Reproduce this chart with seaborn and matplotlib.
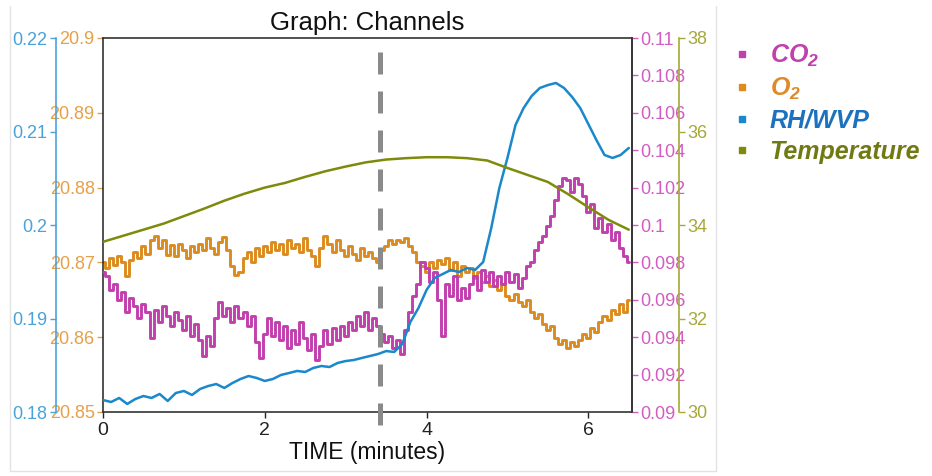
import numpy as np
import pandas as pd
import matplotlib
matplotlib.use("Agg")
import matplotlib.pyplot as plt
import seaborn as sns
from matplotlib.ticker import FixedLocator, FuncFormatter
from matplotlib.lines import Line2D

# ---------------- data ----------------
time_fine = np.round(np.arange(0, 6.5001, 0.05), 2)    # minutes (CO2, O2)
time_mid = np.round(np.arange(0, 6.5001, 0.1), 1)      # minutes (RH/WVP)
time_coarse = np.round(np.arange(0, 6.5001, 0.25), 2)  # minutes (Temperature)

co2 = [
    0.09749, 0.09727, 0.09652, 0.09685, 0.09599, 0.09642, 0.09535, 0.09610, 0.09567, 0.09503,
    0.09578, 0.09535, 0.09396, 0.09545, 0.09481, 0.09567, 0.09513, 0.09460, 0.09535, 0.09492,
    0.09439, 0.09513, 0.09406, 0.09471, 0.09385, 0.09299, 0.09406, 0.09353, 0.09503, 0.09588,
    0.09513, 0.09556, 0.09481, 0.09567, 0.09503, 0.09535, 0.09460, 0.09513, 0.09374, 0.09289,
    0.09417, 0.09503, 0.09406, 0.09481, 0.09385, 0.09460, 0.09342, 0.09439, 0.09364, 0.09481,
    0.09396, 0.09332, 0.09417, 0.09278, 0.09353, 0.09439, 0.09364, 0.09449, 0.09385, 0.09460,
    0.09406, 0.09481, 0.09439, 0.09513, 0.09460, 0.09535, 0.09439, 0.09503, 0.09460, 0.09417,
    0.09374, 0.09406, 0.09342, 0.09385, 0.09310, 0.09439, 0.09535, 0.09620, 0.09685, 0.09802,
    0.09770, 0.09695, 0.09749, 0.09599, 0.09406, 0.09685, 0.09620, 0.09727, 0.09599, 0.09663,
    0.09610, 0.09685, 0.09727, 0.09652, 0.09759, 0.09695, 0.09749, 0.09674, 0.09727, 0.09685,
    0.09749, 0.09695, 0.09738, 0.09663, 0.09717, 0.09781, 0.09802, 0.09866, 0.09909, 0.09941,
    0.09995, 0.10048, 0.10134, 0.10209, 0.10251, 0.10241, 0.10177, 0.10251, 0.10219, 0.10155,
    0.10070, 0.10112, 0.09984, 0.10038, 0.09963, 0.10005, 0.09920, 0.09963, 0.09877, 0.09834,
    0.09802,
]

o2 = [
    20.8701, 20.8693, 20.8706, 20.8697, 20.8709, 20.8701, 20.8682, 20.8703, 20.8714, 20.8706,
    20.8722, 20.8711, 20.8730, 20.8735, 20.8719, 20.8730, 20.8710, 20.8723, 20.8709, 20.8725,
    20.8717, 20.8706, 20.8722, 20.8714, 20.8725, 20.8717, 20.8733, 20.8719, 20.8711, 20.8727,
    20.8734, 20.8717, 20.8695, 20.8683, 20.8687, 20.8706, 20.8714, 20.8701, 20.8719, 20.8709,
    20.8722, 20.8714, 20.8727, 20.8717, 20.8725, 20.8711, 20.8730, 20.8719, 20.8725, 20.8714,
    20.8733, 20.8717, 20.8709, 20.8695, 20.8719, 20.8735, 20.8725, 20.8714, 20.8730, 20.8717,
    20.8709, 20.8722, 20.8711, 20.8703, 20.8719, 20.8709, 20.8714, 20.8706, 20.8701, 20.8717,
    20.8722, 20.8730, 20.8725, 20.8730, 20.8727, 20.8733, 20.8722, 20.8714, 20.8701, 20.8695,
    20.8687, 20.8701, 20.8693, 20.8703, 20.8698, 20.8706, 20.8690, 20.8701, 20.8682, 20.8695,
    20.8687, 20.8693, 20.8679, 20.8687, 20.8674, 20.8682, 20.8668, 20.8676, 20.8663, 20.8671,
    20.8655, 20.8650, 20.8658, 20.8647, 20.8642, 20.8650, 20.8634, 20.8626, 20.8631, 20.8618,
    20.8610, 20.8615, 20.8599, 20.8591, 20.8596, 20.8586, 20.8594, 20.8588, 20.8596, 20.8604,
    20.8599, 20.8612, 20.8607, 20.8620, 20.8628, 20.8623, 20.8636, 20.8631, 20.8644, 20.8634,
    20.8650,
]

rh = [
    0.18128, 0.18107, 0.18150, 0.18086, 0.18139, 0.18171, 0.18150, 0.18193, 0.18118, 0.18203,
    0.18225, 0.18182, 0.18246, 0.18278, 0.18299, 0.18257, 0.18310, 0.18353, 0.18385, 0.18364,
    0.18332, 0.18353, 0.18396, 0.18417, 0.18439, 0.18428, 0.18471, 0.18492, 0.18481, 0.18524,
    0.18545, 0.18556, 0.18578, 0.18599, 0.18620, 0.18652, 0.18642, 0.18727, 0.18963, 0.19112,
    0.19305, 0.19433, 0.19476, 0.19519, 0.19497, 0.19540, 0.19519, 0.19604, 0.19968, 0.20396,
    0.20717, 0.21070, 0.21251, 0.21380, 0.21465, 0.21497, 0.21519, 0.21465, 0.21369, 0.21251,
    0.21080, 0.20909, 0.20749, 0.20717, 0.20749, 0.20824,
]

temperature = [
    33.64, 33.77, 33.90, 34.03, 34.19, 34.35, 34.52, 34.67, 34.80, 34.90,
    35.03, 35.15, 35.25, 35.34, 35.40, 35.43, 35.45, 35.45, 35.43, 35.38,
    35.22, 35.07, 34.92, 34.66, 34.38, 34.11, 33.90,
]

marker_time = 3.43  # dashed event marker (minutes)

series_names = ["CO$_2$", "O$_2$", "RH/WVP", "Temperature"]
o2_ticks = [20.85, 20.86, 20.87, 20.88, 20.89, 20.9]
rh_ticks = [0.18, 0.19, 0.2, 0.21, 0.22]
co2_ticks = [0.09, 0.092, 0.094, 0.096, 0.098, 0.1, 0.102, 0.104, 0.106, 0.108, 0.11]
temp_ticks = [30, 32, 34, 36, 38]
time_ticks = [0, 2, 4, 6]

# ---------------- styling ----------------
sns.set_theme(style="white")
plt.rcParams["font.family"] = ["Liberation Sans", "DejaVu Sans"]
plt.rcParams["mathtext.fontset"] = "custom"
plt.rcParams["mathtext.rm"] = "Liberation Sans:bold:italic"
plt.rcParams["mathtext.it"] = "Liberation Sans:bold:italic"
plt.rcParams["mathtext.bf"] = "Liberation Sans:bold:italic"

c_co2, c_o2, c_rh, c_t = "#C23FAE", "#DC8C1E", "#1A88CB", "#7E8A0C"
tc_co2, tc_o2, tc_rh, tc_t = "#D25CC2", "#E6A048", "#4AA2DA", "#A6A83A"
lg_co2, lg_o2, lg_rh, lg_t = "#C23FAE", "#DE8A28", "#1C72BE", "#6F7A12"

fig = plt.figure(figsize=(9.32, 4.76), dpi=100)
ax = fig.add_axes([103 / 932, 64 / 476, (632 - 103) / 932, (412 - 38) / 476])
ax_m = ax.twinx()
ax_b = ax.twinx()
ax_t = ax.twinx()

df_fine = pd.DataFrame({"t": time_fine, "co2": co2, "o2": o2})
df_mid = pd.DataFrame({"t": time_mid, "rh": rh})
df_coarse = pd.DataFrame({"t": time_coarse, "temp": temperature})

sns.lineplot(data=df_fine, x="t", y="o2", ax=ax, color=c_o2, lw=2.1, drawstyle="steps-mid")
sns.lineplot(data=df_fine, x="t", y="co2", ax=ax_m, color=c_co2, lw=2.1, drawstyle="steps-mid")
sns.lineplot(data=df_mid, x="t", y="rh", ax=ax_b, color=c_rh, lw=1.8)
sns.lineplot(data=df_coarse, x="t", y="temp", ax=ax_t, color=c_t, lw=1.8)

for a in (ax, ax_m, ax_b, ax_t):
    a.set_xlabel("")
    a.set_ylabel("")
    a.set_xlim(0, 6.54)

ax.set_ylim(20.85, 20.9)
ax_m.set_ylim(0.09, 0.11)
ax_b.set_ylim(0.18, 0.22)
ax_t.set_ylim(30, 38)

fmt = FuncFormatter(lambda v, p: f"{round(v, 4):g}")

# main axis (O2)
for s in ax.spines.values():
    s.set_color("#333333")
    s.set_linewidth(1.2)
ax.xaxis.set_major_locator(FixedLocator(time_ticks))
ax.yaxis.set_major_locator(FixedLocator(o2_ticks))
ax.yaxis.set_major_formatter(fmt)
ax.tick_params(axis="y", colors=tc_o2, labelsize=13, length=4, width=1, direction="out", pad=2, left=True)
ax.tick_params(axis="x", colors="#222222", labelsize=14, length=4, width=1, direction="out", pad=3, bottom=True)

# CO2 (right, inner)
ax_m.yaxis.set_major_locator(FixedLocator(co2_ticks))
ax_m.yaxis.set_major_formatter(fmt)
ax_m.tick_params(axis="y", colors=tc_co2, labelsize=13, length=4, width=1, direction="out", pad=2, right=True)
for k in ("left", "top", "bottom"):
    ax_m.spines[k].set_visible(False)
ax_m.spines["right"].set_color("#333333")
ax_m.spines["right"].set_linewidth(1.2)

# RH (left, outer)
for k in ("right", "top", "bottom"):
    ax_b.spines[k].set_visible(False)
ax_b.spines["left"].set_visible(True)
ax_b.spines["left"].set_position(("outward", 34))
ax_b.spines["left"].set_color(tc_rh)
ax_b.spines["left"].set_linewidth(1.2)
ax_b.yaxis.set_ticks_position("left")
ax_b.yaxis.set_label_position("left")
ax_b.yaxis.set_major_locator(FixedLocator(rh_ticks))
ax_b.yaxis.set_major_formatter(fmt)
ax_b.tick_params(axis="y", colors=tc_rh, labelsize=13, length=4, width=1, direction="out", pad=2, left=True)

# Temperature (right, outer)
for k in ("left", "top", "bottom"):
    ax_t.spines[k].set_visible(False)
ax_t.spines["right"].set_position(("outward", 34))
ax_t.spines["right"].set_color(tc_t)
ax_t.spines["right"].set_linewidth(1.2)
ax_t.yaxis.set_major_locator(FixedLocator(temp_ticks))
ax_t.yaxis.set_major_formatter(fmt)
ax_t.tick_params(axis="y", colors=tc_t, labelsize=13, length=4, width=1, direction="out", pad=2, right=True)

# event marker
ax_t.axvline(marker_time, ymin=-0.035, ymax=1.0, color="#8A8A8A", lw=3.6,
             linestyle=(0, (4.4, 3.4)), clip_on=False, zorder=5)

ax.set_title("Graph: Channels", fontsize=18.5, color="#111111", pad=6)
ax.set_xlabel("TIME (minutes)", fontsize=16.5, color="#111111", labelpad=2)

# legend
handles = [Line2D([], [], marker="s", linestyle="none", color=c, markersize=5)
           for c in (c_co2, c_o2, c_rh, c_t)]
leg = fig.legend(handles, series_names, loc="upper left",
                 bbox_to_anchor=(722 / 932, 1 - 30 / 476), frameon=False,
                 prop={"size": 18, "weight": "bold", "style": "italic"},
                 labelcolor=[lg_co2, lg_o2, lg_rh, lg_t],
                 handlelength=0.6, handletextpad=0.8, labelspacing=0.28, borderpad=0)

# light frame
for xs, ys in (((10, 10), (6, 471)), ((716, 716), (6, 471)), ((10, 716), (471, 471))):
    fig.add_artist(Line2D([x / 932 for x in xs], [1 - y / 476 for y in ys],
                          color="#E2E2E2", lw=1, transform=fig.transFigure))

fig.savefig("out.png", dpi=100)
